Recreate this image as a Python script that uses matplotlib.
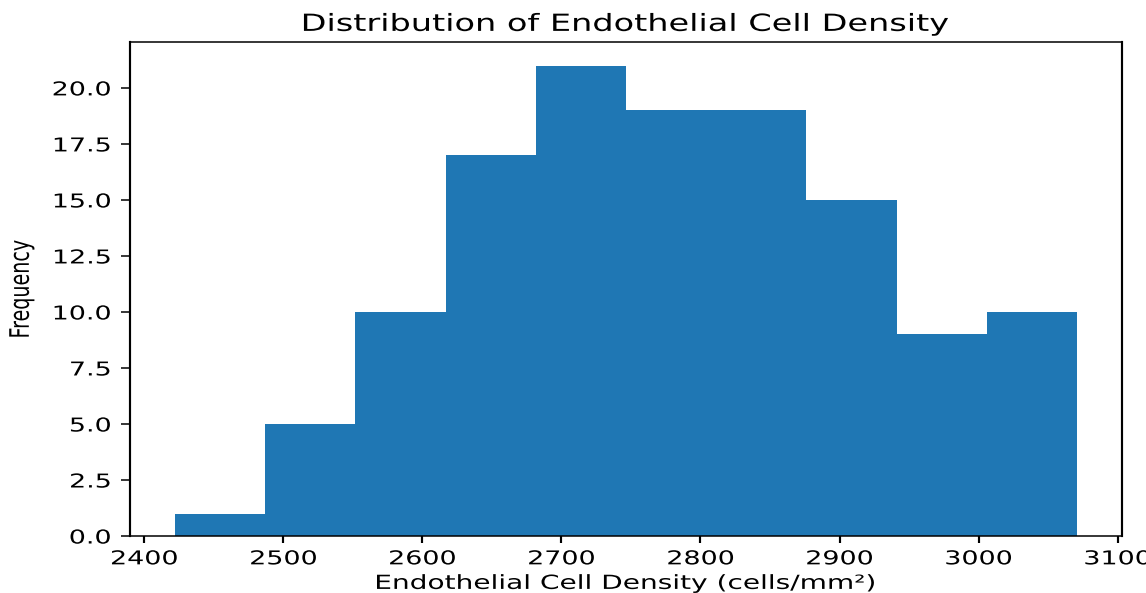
import numpy as np
import matplotlib
matplotlib.use('Agg')
import matplotlib.pyplot as plt
from matplotlib.patheffects import AbstractPathEffect
from matplotlib.transforms import Affine2D

# Histogram
bin_edges = [2422.1, 2487.0, 2551.8, 2616.7, 2681.5, 2746.4,
             2811.3, 2876.1, 2941.0, 3005.8, 3070.5]
counts = [1, 5, 10, 17, 21, 19, 19, 15, 9, 10]

title = "Distribution of Endothelial Cell Density"
xlabel = "Endothelial Cell Density (cells/mm²)"
ylabel = "Frequency"

# the reference image is stretched sideways, so text is widened to match
SX = 1.41


class Widen(AbstractPathEffect):
    def __init__(self, sx=SX, anchor='center'):
        super().__init__()
        self.sx = sx
        self.anchor = anchor

    def draw_path(self, renderer, gc, tpath, affine, rgbFace=None):
        ext = affine.transform_path(tpath).get_extents()
        if self.anchor == 'right':
            x0 = ext.x1
        else:
            x0 = (ext.x0 + ext.x1) / 2
        stretch = Affine2D().translate(-x0, 0).scale(self.sx, 1).translate(x0, 0)
        renderer.draw_path(gc, tpath, affine + stretch, rgbFace)


fig = plt.figure(figsize=(11.46, 5.93), dpi=100)
ax = fig.add_axes([0.1134, 0.0961, 0.8654, 0.8331])

ax.hist(bin_edges[:-1], bins=bin_edges, weights=counts, color='#1f77b4')

ax.set_title(title, fontsize=17, pad=8)
ax.set_xlabel(xlabel, fontsize=14)
ax.set_ylabel(ylabel, fontsize=13.75)
ax.yaxis.set_label_coords(-0.10, 0.5)

for side in ['top', 'bottom']:
    ax.spines[side].set_linewidth(1.1)
for side in ['left', 'right']:
    ax.spines[side].set_linewidth(1.55)
ax.tick_params(axis='x', labelsize=13.75, length=4.8, width=1.55, pad=4.8)
ax.tick_params(axis='y', labelsize=13.75, length=6.8, width=1.1, pad=6.8)

fig.canvas.draw()
ax.title.set_path_effects([Widen(sx=1.42)])
ax.xaxis.label.set_path_effects([Widen(sx=1.44)])
ax.yaxis.label.set_path_effects([Widen()])
for lbl in ax.get_xticklabels():
    lbl.set_path_effects([Widen()])
for lbl in ax.get_yticklabels():
    lbl.set_path_effects([Widen(anchor='right')])

fig.savefig('out.png', dpi=100)
